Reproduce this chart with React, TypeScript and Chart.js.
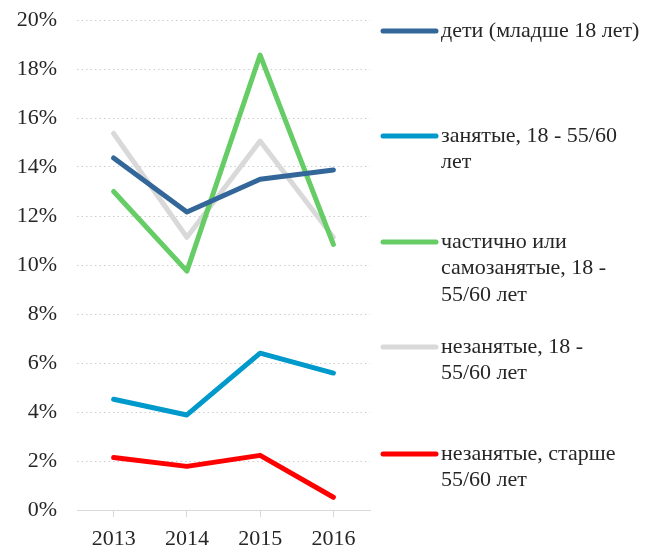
import React, { useEffect, useRef } from "react";
import { Chart, registerables } from "chart.js";

Chart.register(...registerables);

const categories = ["2013", "2014", "2015", "2016"];
const seriesNames = [
  ["дети (младше 18 лет)"],
  ["занятые, 18 - 55/60", "лет"],
  ["частично или", "самозанятые, 18 -", "55/60 лет"],
  ["незанятые, 18 -", "55/60 лет"],
  ["незанятые, старше", "55/60 лет"],
];
const children = [0.1437, 0.1216, 0.1350, 0.1388];
const employed = [0.0452, 0.0388, 0.0640, 0.0559];
const partly = [0.1300, 0.0975, 0.1857, 0.1084];
const unemployed = [0.1537, 0.1113, 0.1506, 0.1113];
const unemployedOld = [0.0214, 0.0178, 0.0223, 0.0052];
const colors = ["#336699", "#0099CC", "#66CC66", "#D9D9D9", "#FF0000"];
const yTicks = [0, 0.02, 0.04, 0.06, 0.08, 0.1, 0.12, 0.14, 0.16, 0.18, 0.2];

const FONT = "'Liberation Serif', 'Times New Roman', serif";

const legendPlugin = {
  id: "sideLegend",
  afterDraw(chart: any) {
    const ctx = chart.ctx;
    const area = chart.chartArea;
    ctx.save();
    const slotTops = [31, 136, 242, 347, 454];
    chart.data.datasets.forEach((ds: any, i: number) => {
      const y = slotTops[i];
      const x0 = area.right + 13;
      ctx.strokeStyle = ds.borderColor;
      ctx.lineWidth = 5;
      ctx.lineCap = "round";
      ctx.beginPath();
      ctx.moveTo(x0, y);
      ctx.lineTo(x0 + 53, y);
      ctx.stroke();
      ctx.fillStyle = "#262626";
      ctx.font = `22px ${FONT}`;
      ctx.textBaseline = "middle";
      ctx.textAlign = "left";
      const lines: string[] = seriesNames[i];
      lines.forEach((t, j) => {
        ctx.fillText(t, x0 + 58, y + j * 26.7);
      });
    });
    ctx.restore();
  },
};

export default function App() {
  const ref = useRef<HTMLCanvasElement | null>(null);
  useEffect(() => {
    if (!ref.current) return;
    const mk = (label: string, data: number[], color: string) => ({
      label,
      data,
      borderColor: color,
      backgroundColor: color,
      borderWidth: 5,
      pointRadius: 0,
      tension: 0,
      borderCapStyle: "round" as const,
      borderJoinStyle: "round" as const,
    });
    const chart = new Chart(ref.current, {
      type: "line",
      data: {
        labels: categories,
        datasets: [
          mk(seriesNames[0].join(" "), children, colors[0]),
          mk(seriesNames[1].join(" "), employed, colors[1]),
          mk(seriesNames[2].join(" "), partly, colors[2]),
          mk(seriesNames[3].join(" "), unemployed, colors[3]),
          mk(seriesNames[4].join(" "), unemployedOld, colors[4]),
        ],
      },
      options: {
        animation: false,
        responsive: false,
        maintainAspectRatio: false,
        layout: { padding: { left: 0, top: 20, right: 277, bottom: 0 } },
        plugins: {
          legend: { display: false },
          tooltip: { enabled: false },
        },
        scales: {
          x: {
            offset: true,
            grid: {
              display: true,
              drawOnChartArea: false,
              drawTicks: true,
              tickLength: 7,
              color: "#D9D9D9",
              lineWidth: 1,
            },
            border: { display: true, color: "#D9D9D9", width: 1 },
            ticks: {
              color: "#262626",
              font: { family: FONT, size: 22 },
              padding: 9,
              maxRotation: 0,
            },
            afterFit: (s: any) => {
              s.height = 36;
              s.paddingLeft = 0;
              s.paddingRight = 0;
            },
          },
          y: {
            min: 0,
            max: 0.2,
            afterBuildTicks: (s: any) => {
              s.ticks = yTicks.map((v) => ({ value: v }));
            },
            grid: {
              color: "#CCCCCC",
              lineWidth: 1,
              drawTicks: false,
            },
            border: { display: false, dash: [1.5, 3] },
            ticks: {
              color: "#262626",
              font: { family: FONT, size: 22 },
              padding: 20,
              callback: (v: any) => `${Math.round(Number(v) * 100)}%`,
            },
            afterFit: (s: any) => {
              s.width = 77;
              s.paddingTop = 0;
              s.paddingBottom = 0;
            },
          },
        },
      },
      plugins: [legendPlugin],
    });
    return () => chart.destroy();
  }, []);
  return (
    <div style={{ position: "fixed", left: 0, top: 0, width: 647, height: 546, background: "#fff" }}>
      <canvas ref={ref} width={647} height={546} style={{ width: 647, height: 546 }} />
    </div>
  );
}
